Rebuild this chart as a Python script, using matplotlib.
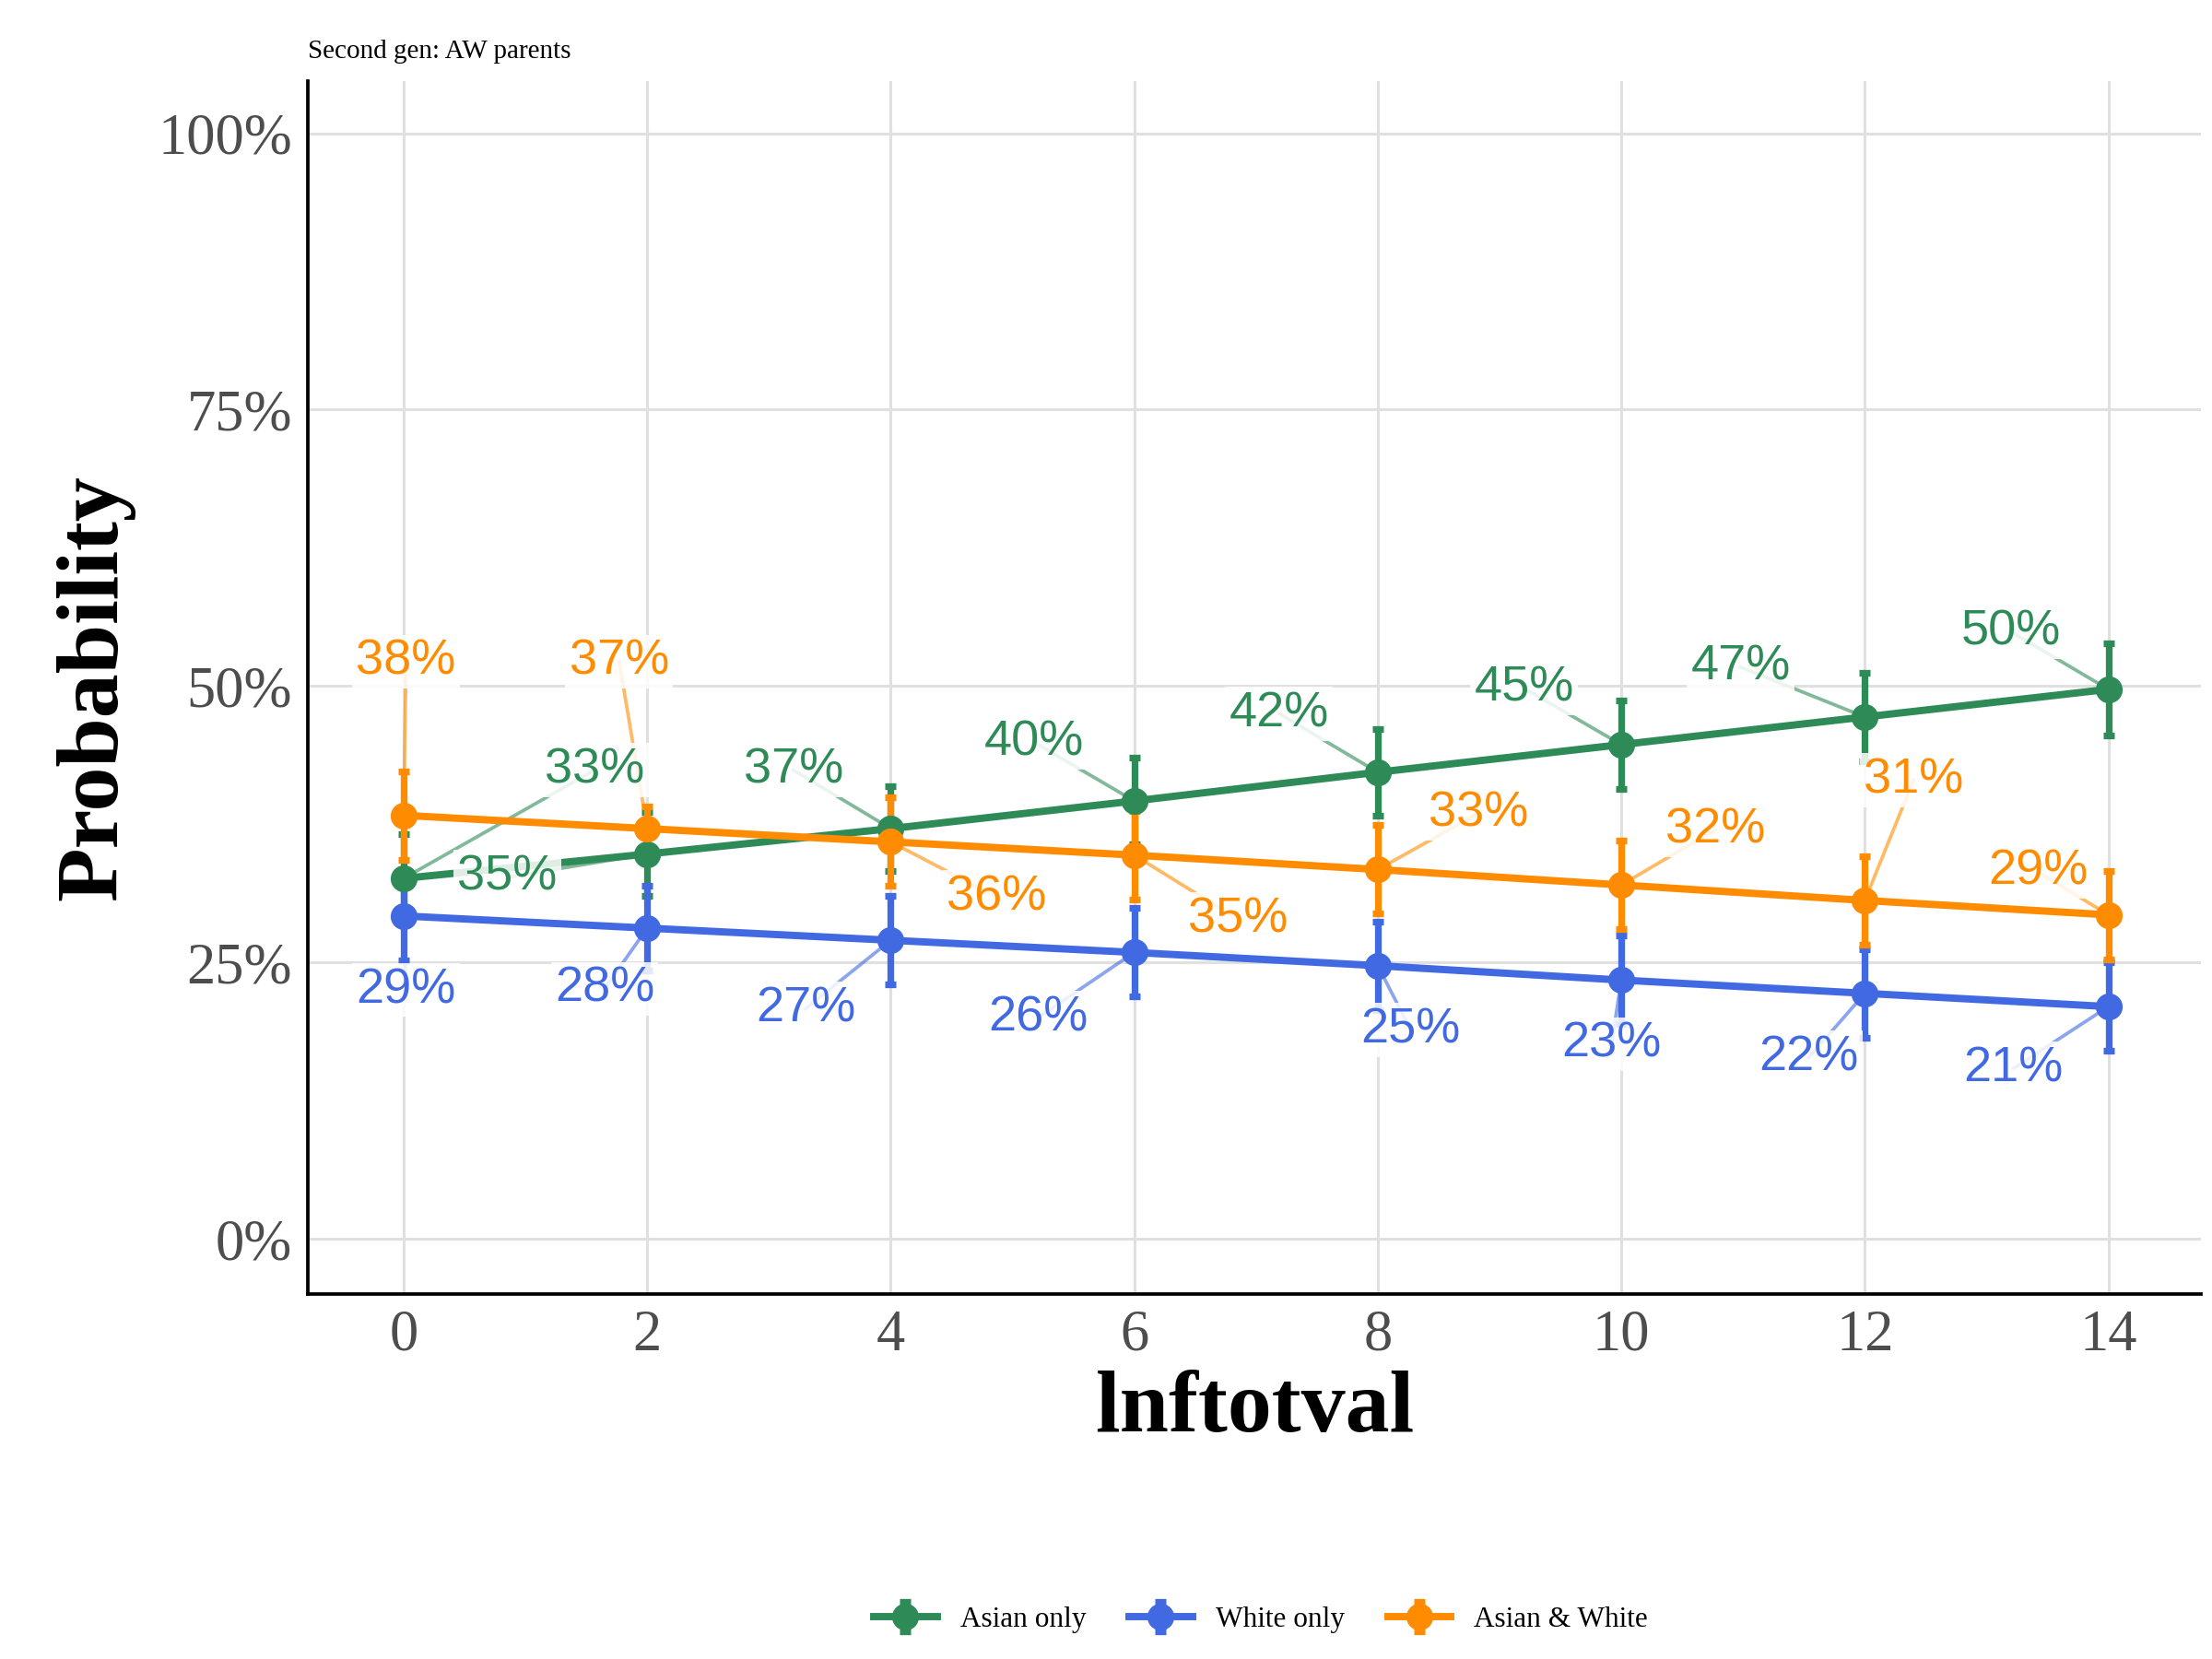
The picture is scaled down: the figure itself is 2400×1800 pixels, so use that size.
import matplotlib
matplotlib.use("Agg")
import matplotlib.pyplot as plt
from matplotlib.ticker import PercentFormatter

x = [0, 2, 4, 6, 8, 10, 12, 14]
series = ["Asian only", "White only", "Asian & White"]
colors = ["#2E8B57", "#4169E1", "#FF8C00"]

asian = [32.6, 34.8, 37.1, 39.6, 42.2, 44.7, 47.2, 49.7]
white = [29.2, 28.1, 27.0, 25.9, 24.7, 23.4, 22.2, 21.0]
mixed = [38.3, 37.1, 35.9, 34.7, 33.4, 32.0, 30.6, 29.3]

asian_err = [4.0, 3.8, 3.8, 3.9, 3.9, 4.0, 4.0, 4.2]
white_err = [4.0, 3.8, 4.0, 4.0, 4.0, 4.0, 4.0, 4.0]
mixed_err = [4.0, 2.0, 4.0, 4.0, 4.0, 4.0, 4.0, 4.0]

asian_lab = ["33%", "35%", "37%", "40%", "42%", "45%", "47%", "50%"]
white_lab = ["29%", "28%", "27%", "26%", "25%", "23%", "22%", "21%"]
mixed_lab = ["38%", "37%", "36%", "35%", "33%", "32%", "31%", "29%"]

# repelled label positions
asian_pos = [(1.57, 42.4), (0.85, 32.7), (3.20, 42.4), (5.18, 44.9),
             (7.19, 47.5), (9.20, 49.8), (10.98, 51.7), (13.20, 54.9)]
white_pos = [(0.02, 22.5), (1.65, 22.6), (3.30, 20.8), (5.21, 20.0),
             (8.27, 18.9), (9.92, 17.6), (11.54, 16.4), (13.22, 15.4)]
mixed_pos = [(0.02, 52.2), (1.77, 52.2), (4.87, 30.9), (6.85, 28.9),
             (8.83, 38.5), (10.77, 37.0), (12.40, 41.5), (13.42, 33.2)]

plt.rcParams['font.family'] = ['Liberation Serif', 'DejaVu Serif']

fig = plt.figure(figsize=(16, 12), dpi=150)
ax = fig.add_axes([0.139, 0.22, 0.856, 0.731])

data = [(asian, asian_err, asian_lab, asian_pos),
        (white, white_err, white_lab, white_pos),
        (mixed, mixed_err, mixed_lab, mixed_pos)]

for (vals, err, labs, pos), name, c in zip(data, series, colors):
    ax.errorbar(x, vals, yerr=err, color=c, lw=3.8, elinewidth=3.5,
                capsize=3, capthick=3.5, marker="o", ms=13, label=name, zorder=3)

for (vals, err, labs, pos), c in zip(data, colors):
    for xi, yi, lab, (lx, ly) in zip(x, vals, labs, pos):
        ax.plot([xi, lx], [yi, ly], color=c, alpha=0.6, lw=1.8, zorder=2)
        ax.text(lx, ly, lab, color=c, fontsize=26, family="Liberation Sans",
                ha="center", va="center", zorder=4,
                bbox=dict(facecolor="white", edgecolor="none", alpha=0.85, pad=2))

ax.set_xlim(-0.79, 14.76)
ax.set_ylim(-5, 104.7)
ax.set_xticks(x)
ax.set_yticks([0, 25, 50, 75, 100])
ax.yaxis.set_major_formatter(PercentFormatter(decimals=0))
ax.grid(True, color="#e0e0e0", lw=1.5)
ax.set_axisbelow(True)
for s in ["top", "right"]:
    ax.spines[s].set_visible(False)
for s in ["left", "bottom"]:
    ax.spines[s].set_linewidth(1.8)
ax.tick_params(length=0, labelsize=30, labelcolor="#4d4d4d", pad=8)
ax.set_xlabel("lnftotval", fontsize=46, fontweight="bold")
ax.set_ylabel("Probability", fontsize=46, fontweight="bold", labelpad=12)
ax.set_title("Second gen: AW parents", fontsize=14, loc="left", pad=12)

fig.legend(loc="lower center", ncol=3, frameon=False, fontsize=15,
           bbox_to_anchor=(0.57, 0.0), handlelength=2.2, columnspacing=1.5)

fig.savefig("out.png", dpi=150)
